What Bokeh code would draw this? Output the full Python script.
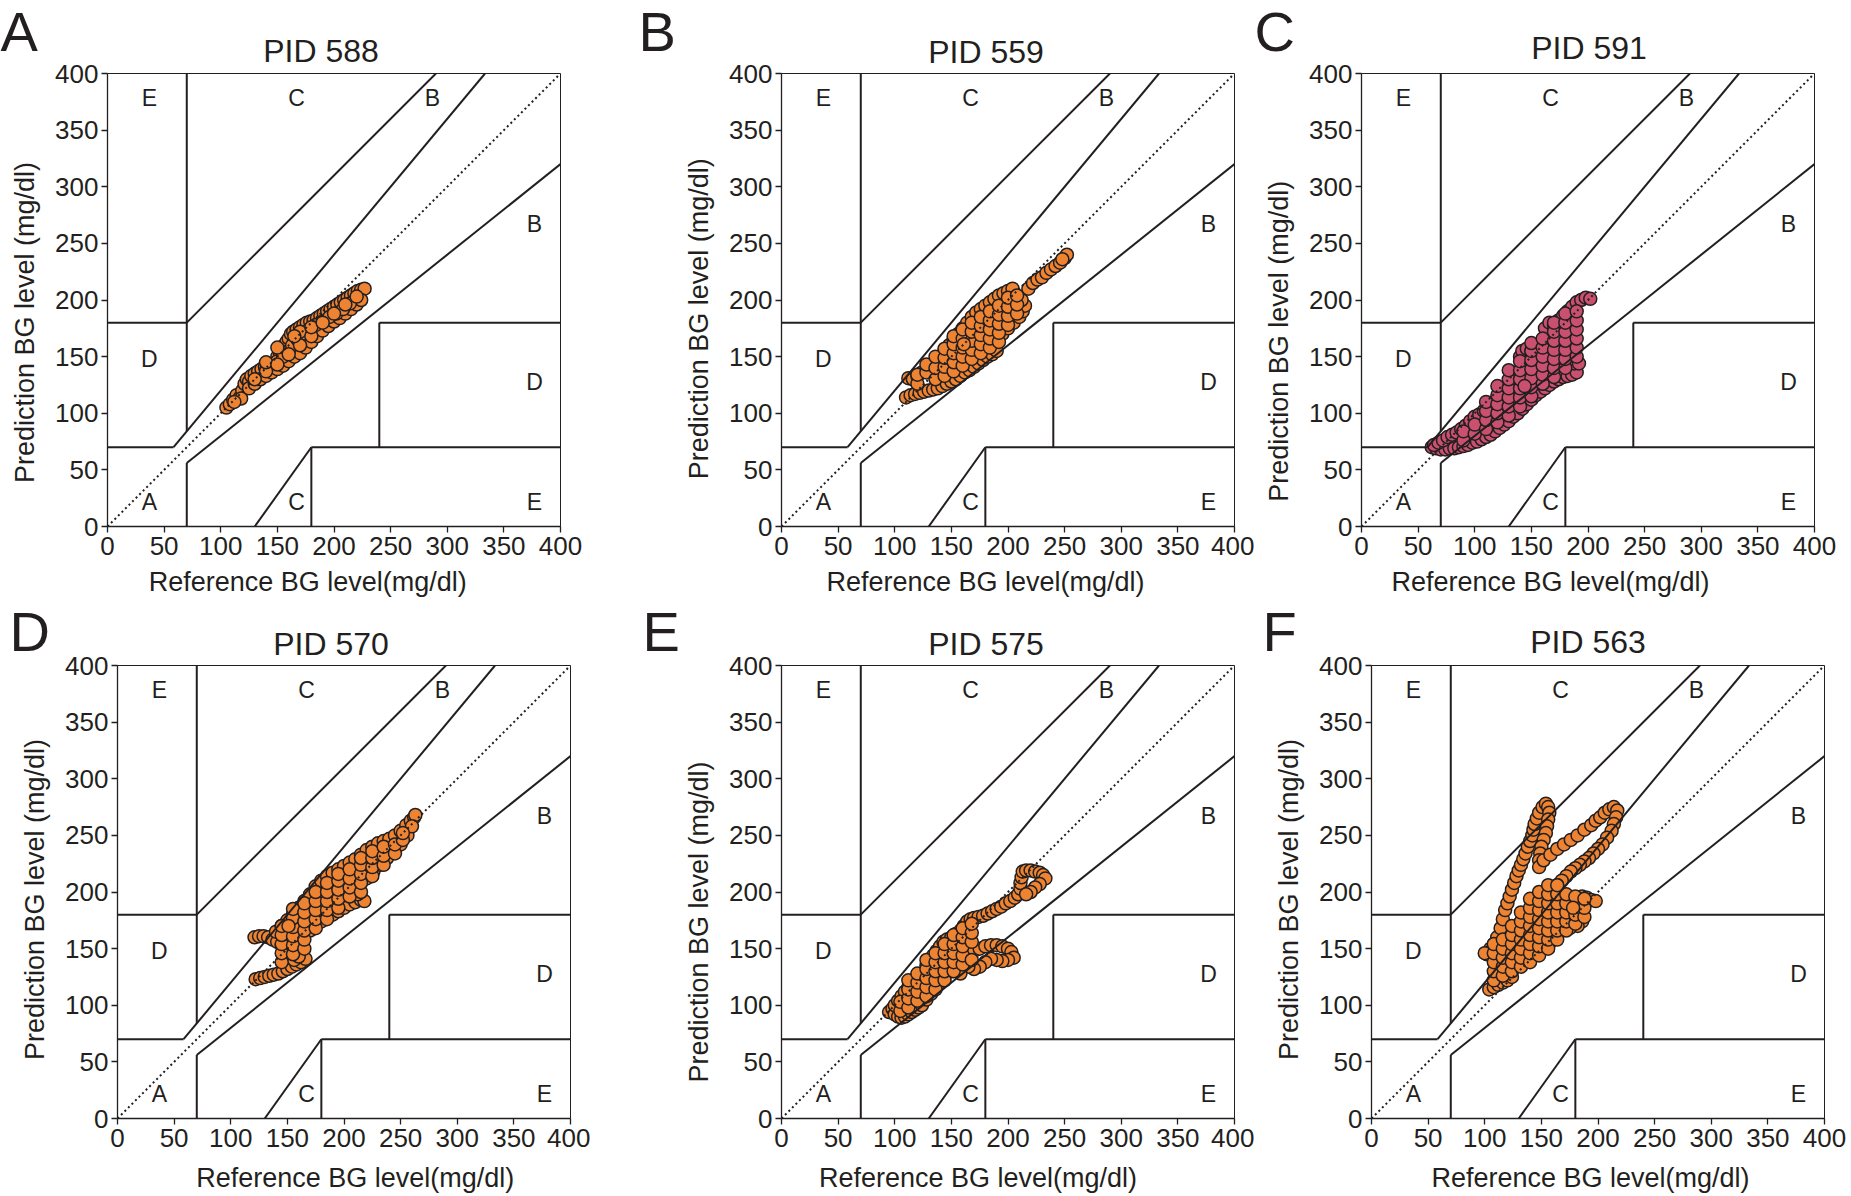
from bokeh.plotting import figure
from bokeh.layouts import row, column
from bokeh.models import FixedTicker, ColumnDataSource, Title
from bokeh.core.properties import value
from bokeh.embed import file_html
from bokeh.resources import INLINE

# ---------------- data ----------------
TICKS = [0, 50, 100, 150, 200, 250, 300, 350, 400]
X_LABEL = "Reference BG level(mg/dl)"
Y_LABEL = "Prediction BG level (mg/dl)"
PANEL_LETTERS = ["A", "B", "C", "D", "E", "F"]
PANEL_TITLES = ["PID 588", "PID 559", "PID 591", "PID 570", "PID 575", "PID 563"]

# Clarke error grid boundaries (x0, y0, x1, y1)
ZONE_X0 = [0, 175 / 3, 70, 0, 70, 70, 70, 180, 180, 240, 240, 130]
ZONE_Y0 = [70, 70, 84, 180, 180, 0, 56, 0, 70, 70, 180, 0]
ZONE_X1 = [175 / 3, 400 / 1.2, 70, 70, 290, 70, 400, 180, 400, 240, 400, 180]
ZONE_Y1 = [70, 400, 400, 180, 400, 56, 320, 70, 70, 180, 180, 70]
DIAG_X = [0, 400]
DIAG_Y = [0, 400]

ZONE_TEXT = ["E", "C", "B", "B", "D", "D", "A", "C", "E"]
ZONE_TEXT_X = [37, 167, 287, 377, 37, 377, 37, 167, 377]
ZONE_TEXT_Y = [378, 378, 378, 267, 148, 128, 22, 22, 22]

pid588_ref = [105, 108, 111, 114, 117, 119, 121, 123, 125, 127, 130, 133, 136, 139, 142, 145, 148, 150, 152, 154,
              156, 158, 160, 162, 164, 167, 170, 173, 176, 179, 182, 185, 188, 191, 194, 197, 200, 203, 206, 209,
              212, 215, 218, 221, 224, 227, 125, 130, 135, 140, 145, 150, 155, 160, 165, 170, 175, 180, 185, 190,
              195, 200, 205, 210, 215, 220, 224, 140, 150, 155, 160, 163, 168, 172, 178, 184, 190, 196, 202, 208,
              214, 220, 130, 140, 140, 150, 150, 160, 170, 170, 180, 180, 190, 200, 210, 118, 112, 165]
pid588_pred = [105, 108, 112, 116, 114, 120, 126, 130, 128, 133, 135, 137, 139, 141, 143, 141, 145, 150, 154, 157,
               160, 163, 166, 170, 172, 174, 176, 178, 180, 181, 182, 184, 186, 188, 190, 192, 194, 196, 198, 200,
               202, 204, 206, 208, 209, 210, 122, 126, 130, 133, 136, 139, 142, 146, 150, 153, 158, 163, 168, 173,
               177, 181, 184, 188, 192, 196, 200, 138, 146, 150, 155, 160, 165, 170, 174, 178, 181, 185, 188, 192,
               197, 203, 130, 137, 145, 143, 158, 152, 160, 172, 168, 176, 180, 188, 196, 113, 110, 168]

pid559_ref = [110, 114, 118, 122, 126, 130, 134, 138, 142, 146, 150, 154, 158, 162, 166, 170, 174, 178, 182, 186,
              190, 112, 116, 120, 124, 128, 132, 136, 140, 144, 148, 152, 156, 160, 164, 168, 172, 176, 180, 184,
              188, 192, 196, 200, 204, 190, 195, 200, 205, 210, 213, 215, 212, 218, 222, 226, 230, 234, 238, 242,
              246, 250, 252, 248,
              120, 120, 128, 128, 136, 136, 136, 144, 144, 144, 144, 152, 152, 152, 152, 152, 160, 160, 160, 160,
              160, 168, 168, 168, 168, 168, 176, 176, 176, 176, 176, 184, 184, 184, 184, 184, 192, 192, 192, 192,
              192, 200, 200, 200, 200, 208, 208, 208, 161]
pid559_pred = [114, 116, 117, 118, 119, 120, 121, 122, 124, 126, 128, 130, 133, 136, 138, 141, 144, 147, 150, 152,
               155, 131, 130, 133, 136, 139, 142, 146, 150, 155, 160, 165, 170, 175, 180, 185, 189, 192, 195, 198,
               201, 204, 206, 208, 210, 165, 170, 175, 180, 185, 190, 195, 200, 210, 215, 218, 220, 224, 227, 230,
               233, 237, 240, 236,
               126, 134, 136, 143, 130, 140, 150, 133, 141, 149, 157, 137, 145, 153, 161, 168, 142, 150, 158, 166,
               174, 148, 156, 164, 172, 180, 153, 161, 169, 177, 185, 158, 166, 174, 182, 190, 163, 171, 179, 187,
               195, 178, 186, 194, 202, 188, 196, 204, 161]

pid591_ref = [62, 66, 70, 74, 78, 82, 86, 90, 94, 98, 102, 106, 110, 114, 118, 122, 126, 130, 134, 138,
              142, 146, 150, 154, 158, 162, 166, 170, 174, 178, 182, 186, 190, 64, 68, 72, 76, 80, 84, 88,
              92, 96, 100, 104, 108, 112, 116, 120, 124, 128, 132, 136, 140, 144, 148, 152, 156, 160, 164, 168,
              172, 176, 180, 184, 188, 192, 140, 142, 146, 150, 154, 158, 162, 166, 170, 168, 164, 162, 166, 170,
              174, 178, 182, 186, 190, 194, 198, 202, 184, 186, 184, 180, 176, 172, 185, 188,
              90, 90, 100, 100, 110, 110, 110, 110, 120, 120, 120, 120, 120, 130, 130, 130, 130, 130, 130, 140,
              140, 140, 140, 140, 140, 150, 150, 150, 150, 150, 150, 150, 160, 160, 160, 160, 160, 160, 170, 170,
              170, 170, 170, 170, 170, 180, 180, 180, 180, 180, 180, 180, 190, 190, 190, 190, 190, 190, 144]
pid591_pred = [70, 69, 68, 68, 69, 69, 70, 71, 72, 74, 75, 77, 79, 81, 84, 87, 90, 93, 97, 100,
               104, 108, 112, 116, 119, 122, 125, 128, 130, 132, 133, 134, 136, 72, 74, 76, 79, 81, 83, 86,
               89, 93, 97, 99, 102, 105, 109, 113, 118, 123, 125, 124, 125, 126, 128, 131, 135, 138, 141, 143,
               145, 147, 146, 145, 144, 144, 150, 155, 157, 155, 152, 150, 152, 155, 160, 165, 170, 175, 180, 178,
               182, 186, 190, 194, 198, 200, 202, 201, 180, 172, 165, 160, 155, 150, 157, 163,
               76, 84, 82, 90, 86, 94, 102, 110, 92, 100, 108, 116, 124, 98, 106, 114, 122, 130, 138, 106,
               114, 122, 130, 138, 146, 115, 123, 131, 139, 147, 155, 162, 126, 134, 142, 150, 158, 166, 132, 140,
               148, 156, 164, 172, 180, 140, 148, 156, 164, 172, 180, 188, 150, 158, 166, 174, 182, 190, 124]

pid570_ref = [122, 126, 130, 134, 138, 142, 146, 150, 154, 158, 162, 166, 121, 125, 129, 133, 137, 141, 145, 148,
              150, 152, 156, 160, 140, 145, 150, 155, 160, 165, 170, 175, 180, 185, 190, 195, 200, 205, 210, 215,
              220, 225, 230, 235, 240, 245, 250, 255, 259, 262, 263, 150, 155, 160, 165, 170, 175, 180, 185, 190,
              195, 200, 205, 210, 215, 218, 212, 208, 214, 220, 226, 232, 238, 244, 250, 256, 260,
              145, 145, 145, 145, 145, 155, 155, 155, 155, 155, 155, 165, 165, 165, 165, 165, 165, 175, 175, 175,
              175, 175, 185, 185, 185, 185, 185, 195, 195, 195, 195, 195, 205, 205, 205, 205, 215, 215, 215, 215,
              215, 225, 225, 225, 225, 235, 235, 235, 245, 245, 252, 252, 151]
pid570_pred = [123, 124, 125, 126, 127, 128, 130, 132, 134, 136, 138, 141, 160, 161, 161, 160, 158, 156, 153, 150,
               146, 142, 140, 143, 165, 170, 175, 180, 186, 192, 198, 205, 210, 214, 217, 220, 223, 226, 229, 233,
               237, 240, 243, 245, 247, 250, 254, 259, 263, 266, 268, 155, 157, 160, 163, 166, 170, 174, 177, 180,
               183, 186, 189, 191, 193, 192, 198, 204, 208, 212, 218, 224, 230, 236, 242, 250, 258,
               138, 146, 154, 162, 170, 145, 153, 161, 169, 177, 185, 150, 158, 166, 174, 182, 190, 168, 176, 184,
               192, 200, 176, 184, 192, 200, 208, 186, 194, 202, 210, 216, 196, 204, 212, 220, 200, 208, 216, 224,
               230, 214, 222, 230, 236, 224, 232, 240, 234, 242, 246, 252, 170]

pid575_ref = [95, 98, 100, 103, 106, 109, 112, 115, 118, 121, 124, 100, 103, 106, 109, 112, 115, 118, 121, 124,
              127, 130, 115, 120, 125, 130, 135, 140, 128, 132, 128, 131, 134, 137, 140, 143, 146, 150, 154, 158,
              161, 164, 167, 170, 174, 178, 182, 186, 190, 194, 198, 202, 206, 209, 211, 211, 212, 213, 216, 220,
              224, 228, 231, 233, 228, 224, 220, 216, 140, 145, 150, 155, 160, 165, 170, 175, 180, 185, 190, 195,
              200, 203, 205, 200, 195, 190, 185, 180, 175, 170, 165, 160, 155, 150, 145, 138, 150, 158,
              105, 105, 112, 112, 112, 112, 120, 120, 120, 120, 128, 128, 128, 128, 128, 136, 136, 136, 136, 136,
              144, 144, 144, 144, 144, 152, 152, 152, 152, 152, 160, 160, 160, 160, 160, 168, 168, 168, 168]
pid575_pred = [94, 97, 92, 90, 89, 90, 92, 94, 96, 98, 100, 100, 104, 108, 112, 116, 119, 117, 120, 124,
               127, 130, 108, 110, 112, 115, 118, 120, 105, 110, 135, 140, 144, 148, 152, 156, 158, 160, 163, 166,
               170, 174, 176, 177, 178, 179, 181, 183, 185, 187, 190, 192, 195, 198, 203, 208, 213, 218, 219, 219,
               218, 217, 215, 212, 207, 204, 200, 198, 132, 135, 138, 141, 144, 146, 148, 150, 152, 153, 153, 152,
               150, 147, 142, 140, 139, 140, 141, 138, 134, 132, 134, 137, 146, 150, 143, 138, 130, 128,
               95, 103, 98, 106, 114, 122, 104, 112, 120, 128, 108, 116, 124, 132, 140, 114, 122, 130, 138, 146,
               122, 130, 138, 146, 154, 130, 138, 146, 154, 162, 136, 144, 152, 160, 168, 140, 156, 164, 172]

pid563_ref = [104, 108, 112, 116, 120, 124, 102, 105, 108, 111, 114, 116, 118, 120, 122, 124, 126, 128, 130, 132,
              134, 136, 138, 140, 142, 143, 144, 146, 148, 151, 154, 156, 157, 156, 155, 154, 152, 150, 149, 148,
              148, 152, 158, 164, 170, 176, 182, 188, 194, 198, 202, 206, 210, 214, 217, 216, 214, 212, 208, 204,
              200, 196, 192, 188, 184, 180, 176, 172, 168, 164, 160, 156, 152, 156, 160, 165, 170, 175, 178, 182,
              186, 190, 194, 198, 185, 180, 178, 186, 182, 175, 168, 162, 158, 152, 146, 140, 134, 128, 124, 120,
              115, 110, 106, 100,
              108, 108, 108, 108, 108, 116, 116, 116, 116, 116, 124, 124, 124, 124, 124, 124, 132, 132, 132, 132,
              132, 132, 132, 140, 140, 140, 140, 140, 140, 140, 140, 148, 148, 148, 148, 148, 148, 148, 148, 156,
              156, 156, 156, 156, 156, 156, 156, 164, 164, 164, 164, 164, 164, 164, 172, 172, 172, 172, 172, 180,
              180, 180, 180, 188, 188, 188, 178]
pid563_pred = [114, 116, 118, 120, 122, 125, 145, 150, 154, 160, 168, 176, 184, 190, 196, 202, 208, 214, 219, 224,
               229, 234, 240, 245, 250, 255, 260, 265, 270, 275, 278, 275, 270, 264, 258, 252, 246, 240, 234, 228,
               222, 228, 233, 238, 242, 246, 250, 255, 259, 263, 266, 270, 273, 275, 272, 266, 260, 254, 248, 242,
               238, 234, 230, 227, 224, 221, 218, 214, 210, 206, 202, 198, 190, 186, 182, 180, 184, 188, 192, 194,
               196, 195, 193, 192, 186, 180, 186, 174, 170, 168, 166, 160, 156, 152, 148, 145, 141, 137, 133, 130,
               138, 142, 148, 146,
               122, 130, 138, 146, 154, 126, 134, 142, 150, 158, 130, 138, 146, 154, 162, 170, 134, 142, 150, 158,
               166, 174, 182, 138, 146, 154, 162, 170, 178, 186, 194, 144, 152, 160, 168, 176, 184, 192, 200, 150,
               158, 166, 174, 182, 190, 198, 206, 158, 166, 174, 182, 190, 198, 206, 166, 174, 182, 190, 198, 172,
               180, 188, 196, 178, 186, 194, 186]

PANEL_REF = [pid588_ref, pid559_ref, pid591_ref, pid570_ref, pid575_ref, pid563_ref]
PANEL_PRED = [pid588_pred, pid559_pred, pid591_pred, pid570_pred, pid575_pred, pid563_pred]

# ---------------- style / layout ----------------
FONT = "Liberation Sans"
INK = "#231f20"
ORANGE = "#ee8431"
PINK = "#c9516f"
PANEL_COLORS = [ORANGE, ORANGE, PINK, ORANGE, ORANGE, ORANGE]
FRAME = 453
NBSP = "\u00a0"

ROW_TOP = [73, 65]
ROW_BOTTOM = [74, 78]
X_LABEL_STANDOFF = [9, 13]
# per panel: canvas_left, frame_left, canvas_width
GEOM = [(0, 107, 590), (590, 781, 664), (1254, 1361, 597),
        (0, 117, 590), (590, 781, 664), (1254, 1371, 597)]
LETTER_X = [0, 638, 1254, 9, 642, 1262]       # page x of the panel letter
LETTER_BASE = 50                              # letter baseline below the canvas top
TITLE_DX = [-13, -22, 1, -13, -22, -10]        # title centre relative to frame centre
TITLE_GAP = [11.5, 10.5, 14.5, 10, 10.5, 12]   # title baseline above the frame
# shifts of the axis titles along their axes (in non-breaking-space units)
X_LABEL_PAD = [(0, 7), (0, 6), (0, 10), (3, 0), (0, 8), (0, 2)]
Y_LABEL_PAD = [6, 5, 11, 2, 8, 2]

TITLE_PX = 32
LETTER_PX = 56
ASC, DESC = 0.905, 0.212


def make_panel(i):
    c_left, f_left, c_w = GEOM[i]
    r = i // 3
    top = ROW_TOP[r]
    b_left = f_left - c_left
    b_right = c_w - b_left - FRAME
    p = figure(frame_width=FRAME, frame_height=FRAME, x_range=(0, 400), y_range=(0, 400),
               output_backend="svg", toolbar_location=None, title=None,
               min_border_left=b_left, min_border_right=b_right,
               min_border_top=top, min_border_bottom=ROW_BOTTOM[r],
               background_fill_color="white", border_fill_color="white")
    p.grid.visible = False
    p.outline_line_color = INK
    p.outline_line_width = 1
    for ax in (p.xaxis[0], p.yaxis[0]):
        ax.ticker = FixedTicker(ticks=TICKS)
        ax.axis_line_color = INK
        ax.axis_line_width = 1.3
        ax.major_tick_line_color = INK
        ax.major_tick_line_width = 1.3
        ax.major_tick_out = 6
        ax.major_tick_in = 0
        ax.minor_tick_out = 0
        ax.minor_tick_in = 0
        ax.major_label_text_font = FONT
        ax.major_label_text_font_size = "26px"
        ax.major_label_text_color = INK
        ax.axis_label_text_font = FONT
        ax.axis_label_text_font_size = "27px"
        ax.axis_label_text_font_style = "normal"
        ax.axis_label_text_color = INK
    lead, trail = X_LABEL_PAD[i]
    p.xaxis.axis_label = NBSP * lead + X_LABEL + NBSP * trail
    p.yaxis.axis_label = Y_LABEL + NBSP * Y_LABEL_PAD[i]
    p.xaxis.major_label_standoff = 4
    p.yaxis.major_label_standoff = 3
    p.xaxis.axis_label_standoff = X_LABEL_STANDOFF[r]
    p.yaxis.axis_label_standoff = 12

    src = ColumnDataSource(dict(ref=PANEL_REF[i], pred=PANEL_PRED[i]))
    p.scatter(x="ref", y="pred", source=src, marker="circle", size=13,
              fill_color=PANEL_COLORS[i], line_color=INK, line_width=1.5)

    p.segment(x0=ZONE_X0, y0=ZONE_Y0, x1=ZONE_X1, y1=ZONE_Y1, line_color=INK, line_width=2)
    p.line(DIAG_X, DIAG_Y, line_color=INK, line_width=2, line_dash="2 3")
    p.text(x=ZONE_TEXT_X, y=ZONE_TEXT_Y, text=ZONE_TEXT, text_font=value(FONT),
           text_font_size="23px", text_align="center", text_baseline="middle", text_color=INK)

    # panel title, right above the frame
    s1 = 2 * (TITLE_GAP[i] - DESC * TITLE_PX)
    h1 = 2 + (ASC + DESC) * TITLE_PX + s1
    title_w = 3.613 * TITLE_PX
    p.add_layout(Title(text=PANEL_TITLES[i], align="left", vertical_align="bottom",
                       offset=FRAME / 2 + TITLE_DX[i] - title_w / 2, standoff=s1,
                       text_font=FONT, text_font_size=f"{TITLE_PX}px", text_font_style="normal",
                       text_color=INK), "above")
    # panel letter, pulled down over the title row
    s2 = 2 * (top - h1 - LETTER_BASE - DESC * LETTER_PX)
    p.add_layout(Title(text=PANEL_LETTERS[i], align="left", vertical_align="bottom",
                       offset=LETTER_X[i] - f_left, standoff=s2,
                       text_font=FONT, text_font_size=f"{LETTER_PX}px", text_font_style="normal",
                       text_color=INK), "above")
    return p


figs = [make_panel(i) for i in range(6)]
layout = column(row(*figs[:3], spacing=0), row(*figs[3:], spacing=0), spacing=0)

open("out.html", "w").write(file_html(layout, INLINE))
